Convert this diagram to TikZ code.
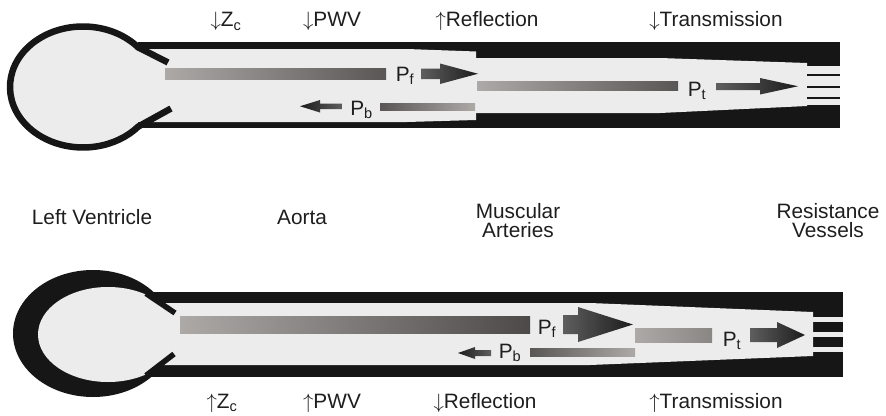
\documentclass[tikz,border=0pt]{standalone}
\usepackage{fontspec}
\setmainfont{Liberation Sans}
\definecolor{WallBlack}{HTML}{161616}
\definecolor{LumenGrey}{HTML}{ECECEC}
\definecolor{WaveLight}{HTML}{ADA9A7}
\definecolor{WaveMid}{HTML}{8A8684}
\definecolor{WaveDark}{HTML}{5A5656}
\definecolor{PushLight}{HTML}{5E5E5E}
\definecolor{PushDark}{HTML}{1C1C1C}
\definecolor{InkGrey}{HTML}{1E1E1E}

\begin{document}
\begin{tikzpicture}[x=1pt,y=-1pt,
    region/.style={font=\fontsize{20.8}{19.5}\selectfont,text=InkGrey,align=center,inner sep=0pt,anchor=base},
    wavetag/.style={font=\fontsize{20.8}{20}\selectfont,text=InkGrey,inner sep=0pt,anchor=base}]
  \useasboundingbox (0,0) rectangle (886,415);
  % upper tree
  \fill[LumenGrey] (83,87) ellipse [x radius=73,y radius=60.5];
  \fill[WallBlack] (138,42) rectangle (840,128);
  \fill[LumenGrey] (138,49) -- (407,49) -- (476,51.5) -- (476,120) -- (407,122) -- (138,122) -- cycle;
  \fill[LumenGrey] (476,58) -- (660,58) -- (807,63) -- (807,106) -- (660,113) -- (476,113) -- cycle;
  \fill[LumenGrey] (807,66) rectangle (840,105);
  \foreach \y in {75,87,98}
    \draw[WallBlack,line width=2] (807,\y) -- (840,\y);
  \draw[WallBlack,line width=6.5] (168,62.5) -- (138.1,47.3) arc[start angle=-41,end angle=-319,x radius=73,y radius=60.5] -- (171,108.5);
  \shade[left color=WaveLight,right color=WaveDark] (165,68.5) rectangle (386,79);
  \node[wavetag] (pf1) at (405,81.5) {P\textsubscript{f}};
  \shade[left color=PushLight,right color=PushDark] (421,68.5) -- (440,68.5) -- (440,63.5) -- (478,73.75) -- (440,84) -- (440,79) -- (421,79) -- cycle;
  \shade[left color=PushDark,right color=PushLight] (300,106.25) -- (320,100) -- (320,103.5) -- (342,103.5) -- (342,109) -- (320,109) -- (320,112.5) -- cycle;
  \node[wavetag] (pb1) at (361.5,115) {P\textsubscript{b}};
  \shade[left color=WaveDark,right color=WaveLight] (380,103) rectangle (475,110);
  \shade[left color=WaveLight,right color=WaveDark] (477,81.5) rectangle (678,90);
  \node[wavetag] (pt1) at (697,96) {P\textsubscript{t}};
  \shade[left color=PushLight,right color=PushDark] (716,83) -- (760,83) -- (760,78) -- (798,86.25) -- (760,94.5) -- (760,90) -- (716,90) -- cycle;
  % lower tree
  \fill[WallBlack] (147,292) rectangle (843,377);
  \fill[WallBlack] (93,333.5) ellipse [x radius=80,y radius=63.5];
  \fill[LumenGrey] (108,334.5) ellipse [x radius=70,y radius=47.5];
  \fill[LumenGrey] (150,303) -- (590,303) -- (813,312) -- (813,356) -- (590,365) -- (150,365) -- cycle;
  \foreach \y in {317,332,347}
    \fill[LumenGrey] (813,\y) rectangle (843,\y+5);
  \draw[WallBlack,line width=5.5] (146,293.5) -- (175,313);
  \draw[WallBlack,line width=5.5] (146,375.5) -- (174,354);
  \shade[left color=WaveLight,right color=WaveDark!85!black] (180,316) rectangle (530,333);
  \node[wavetag] (pf2) at (547,334.5) {P\textsubscript{f}};
  \shade[left color=PushLight,right color=PushDark] (563,315) -- (578,315) -- (578,307) -- (633,324.5) -- (578,342) -- (578,334) -- (563,334) -- cycle;
  \shade[left color=PushDark,right color=PushLight] (458,353) -- (475,347) -- (475,350) -- (491,350) -- (491,356) -- (475,356) -- (475,359) -- cycle;
  \node[wavetag] (pb2) at (510,358) {P\textsubscript{b}};
  \shade[left color=WaveDark,right color=WaveLight] (530,348) rectangle (635,356);
  \shade[left color=WaveLight,right color=WaveMid] (635,328) rectangle (712,342);
  \node[wavetag] (pt2) at (732,346) {P\textsubscript{t}};
  \shade[left color=PushLight,right color=PushDark] (750,328) -- (777,328) -- (777,322) -- (805,335) -- (777,348) -- (777,342) -- (750,342) -- cycle;
  % labels
  \node[region] (zc1) at (226,27) {$\downarrow$Z\textsubscript{c}};
  \node[region] (pwv1) at (332,27) {$\downarrow$PWV};
  \node[region] (refl1) at (487,27) {$\uparrow$Reflection};
  \node[region] (trans1) at (716,27) {$\downarrow$Transmission};
  \node[region] (lv) at (92,224) {Left Ventricle};
  \node[region] (aorta) at (302,224) {Aorta};
  \node[region] (muscular) at (518,237.5) {Muscular\\Arteries};
  \node[region] (resist) at (828,237.5) {Resistance\\Vessels};
  \node[region] (zc2) at (222,408.5) {$\uparrow$Z\textsubscript{c}};
  \node[region] (pwv2) at (332,408.5) {$\uparrow$PWV};
  \node[region] (refl2) at (485,408.5) {$\downarrow$Reflection};
  \node[region] (trans2) at (716,408.5) {$\uparrow$Transmission};
\end{tikzpicture}
\end{document}
